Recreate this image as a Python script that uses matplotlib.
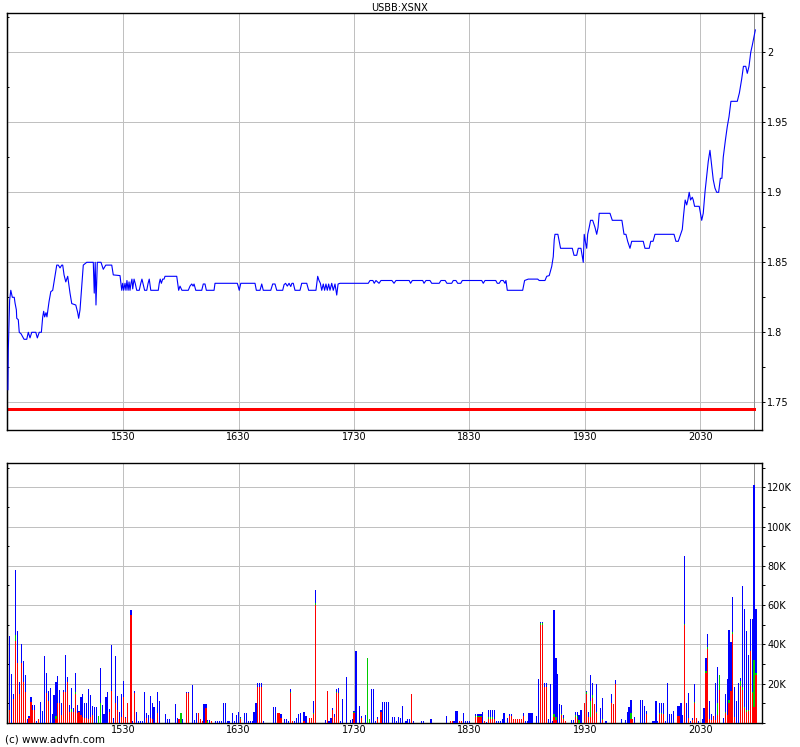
import matplotlib
matplotlib.use('Agg')
import matplotlib.pyplot as plt
from matplotlib.ticker import MultipleLocator, FixedLocator, FuncFormatter
import numpy as np

# --- DATA ---
# x values are minutes after 14:30
title = 'USBB:XSNX'
prev_close = 1.745
last_minute = 388.0

price_minute = [
    0.0, 0.2, 0.6, 0.9, 1.5, 2.0, 2.3, 3.3, 3.7, 4.4, 4.6, 5.4, 5.9, 6.8, 8.4, 9.8,
    10.6, 11.5, 12.4, 14.5, 15.3, 16.3, 17.4, 18.1, 18.6, 19.1, 19.8, 20.3, 21.4, 22.3,
    23.3, 24.1, 25.4, 26.2, 27.1, 28.0, 28.5, 29.2, 30.1, 31.1, 32.3, 33.2, 35.3, 36.3,
    36.8, 37.5, 38.4, 39.2, 41.0, 44.4, 44.9, 45.4, 45.8, 46.5, 48.4, 49.6, 50.9, 54.0,
    54.8, 58.3,
    59.2, 59.7, 60.2, 60.9, 61.4, 61.9, 62.5, 63.0, 63.5, 64.0, 64.5, 64.9, 65.6, 66.2,
    67.0, 68.3, 69.1, 69.7, 70.4, 71.1, 72.2, 72.9, 73.5, 74.3, 78.2, 78.7, 79.2, 79.8,
    80.5, 81.2, 81.7, 87.8, 88.3, 88.8, 89.5, 90.5, 93.8, 94.7, 95.6, 96.3, 96.8, 97.7,
    100.8, 101.6, 102.5, 103.2, 107.2, 107.7, 119.3, 119.8, 120.3, 121.1, 128.5, 129.2,
    131.1, 132.0, 132.8, 136.7, 137.7, 138.9, 139.8, 142.9, 143.6, 144.4, 145.3, 146.2,
    147.1, 147.7, 148.4, 149.3, 151.9, 152.8, 155.4, 156.4, 160.2, 161.1, 161.8, 162.5,
    163.2, 164.0, 164.7, 165.4, 166.1, 166.8, 167.5, 168.4, 169.2, 170.1, 171.0, 171.7,
    172.7, 187.4, 188.3, 189.8, 190.5, 191.4, 193.0, 194.0, 199.7, 200.8, 201.8,
    208.7, 209.4, 210.3, 215.7, 216.4, 217.4, 219.5, 220.4, 224.3, 225.2, 227.4, 228.3,
    230.8, 231.6, 233.0, 233.9, 235.5, 236.3, 246.4, 247.2, 248.1, 253.7, 254.5, 255.5,
    256.4, 257.6, 258.5, 259.0, 259.7, 267.7, 268.7, 270.6, 275.5, 276.3, 279.3, 280.2,
    281.5, 282.8, 283.6, 284.1, 284.5, 286.0, 286.7, 287.4, 293.5, 294.4, 295.8, 296.6,
    298.0, 298.7, 299.2, 299.7, 300.4, 301.0, 301.5, 302.3, 303.0, 304.1, 305.3, 306.2,
    306.9, 307.5, 313.1, 314.3, 319.3, 320.4, 321.4, 322.3, 323.5, 324.4, 330.4, 331.3,
    333.5, 334.3, 335.5, 336.5, 346.4, 347.4, 348.6, 349.8, 350.7, 351.4, 352.2, 353.0,
    353.6, 354.3, 355.0, 355.9, 356.4, 357.1, 359.5, 360.8, 361.6, 362.5, 363.4, 364.2,
    365.1, 365.9, 366.8, 367.7, 368.6, 369.6, 370.5, 371.3, 372.0, 373.1, 374.1, 375.0,
    376.0, 379.3, 380.4, 381.6, 382.5, 383.7, 384.5, 385.4, 386.3, 387.1, 388.0, 388.7,
]
price = [
    1.759, 1.787, 1.807, 1.823, 1.830, 1.827, 1.825, 1.825, 1.821, 1.816, 1.810, 1.809, 1.800, 1.799, 1.795, 1.795,
    1.800, 1.796, 1.800, 1.800, 1.796, 1.800, 1.800, 1.811, 1.815, 1.811, 1.814, 1.811, 1.822, 1.829,
    1.830, 1.837, 1.848, 1.848, 1.846, 1.848, 1.848, 1.841, 1.836, 1.840, 1.828, 1.8205, 1.8195, 1.814,
    1.810, 1.816, 1.833, 1.848, 1.850, 1.850, 1.828, 1.850, 1.8195, 1.850, 1.850, 1.845, 1.848, 1.848,
    1.841, 1.8405,
    1.830, 1.835, 1.830, 1.835, 1.830, 1.837, 1.830, 1.836, 1.830, 1.835, 1.838, 1.831, 1.838, 1.835,
    1.830, 1.830, 1.835, 1.838, 1.834, 1.830, 1.830, 1.835, 1.838, 1.830, 1.830, 1.835, 1.838, 1.835,
    1.838, 1.838, 1.840, 1.840, 1.835, 1.830, 1.833, 1.830, 1.830, 1.833, 1.8345, 1.833, 1.8345, 1.830,
    1.830, 1.8345, 1.8345, 1.830, 1.830, 1.835, 1.835, 1.8327, 1.830, 1.835, 1.835, 1.830,
    1.830, 1.8345, 1.830, 1.830, 1.8345, 1.8345, 1.830, 1.830, 1.834, 1.835, 1.833, 1.835,
    1.8327, 1.835, 1.835, 1.830, 1.830, 1.835, 1.835, 1.830, 1.830, 1.840, 1.837, 1.835,
    1.830, 1.8345, 1.830, 1.8345, 1.830, 1.8345, 1.830, 1.835, 1.830, 1.8345, 1.8266, 1.8345,
    1.835, 1.835, 1.837, 1.837, 1.835, 1.837, 1.835, 1.837, 1.837, 1.835, 1.837,
    1.837, 1.835, 1.837, 1.837, 1.835, 1.837, 1.837, 1.835, 1.835, 1.837, 1.837, 1.835,
    1.835, 1.837, 1.837, 1.835, 1.835, 1.837, 1.837, 1.835, 1.837, 1.837, 1.835, 1.835,
    1.837, 1.837, 1.835, 1.837, 1.830, 1.830, 1.837, 1.838, 1.838, 1.837, 1.837, 1.840,
    1.8405, 1.847, 1.854, 1.866, 1.870, 1.870, 1.865, 1.860, 1.860, 1.855, 1.855, 1.860,
    1.860, 1.854, 1.850, 1.870, 1.864, 1.860, 1.870, 1.875, 1.880, 1.880, 1.875, 1.870,
    1.875, 1.885, 1.885, 1.880, 1.880, 1.870, 1.870, 1.865, 1.860, 1.865, 1.865, 1.860,
    1.860, 1.865, 1.865, 1.870, 1.870, 1.865, 1.865, 1.870, 1.8735, 1.884, 1.8945, 1.891,
    1.8945, 1.900, 1.8945, 1.8965, 1.8945, 1.890, 1.890, 1.880, 1.885, 1.900, 1.912, 1.922,
    1.930, 1.920, 1.909, 1.903, 1.900, 1.900, 1.910, 1.910, 1.925, 1.937, 1.947, 1.954,
    1.965, 1.965, 1.971, 1.981, 1.990, 1.990, 1.985, 1.990, 2.000, 2.005, 2.011, 2.016,
]

# volume per minute, in thousands: total, red part (bottom), green part (middle)
vol_minute = [
    1, 2, 3, 4, 5, 6, 7, 8, 9, 10,
    11, 12, 13, 14, 15, 16, 17, 18, 19, 20,
    21, 22, 23, 24, 25, 26, 27, 28, 29, 30,
    31, 32, 33, 34, 35, 36, 37, 38, 39, 40,
    41, 42, 43, 44, 45, 46, 47, 48, 49, 50,
    51, 52, 53, 54, 55, 56, 57, 58, 59, 60,
    61, 62, 64, 65, 66, 67, 68, 69, 70, 71,
    72, 73, 74, 75, 76, 78, 79, 82, 83, 84,
    87, 88, 89, 90, 91, 93, 94, 96, 97, 98,
    99, 100, 101, 102, 103, 104, 105, 106, 108, 109,
    110, 111, 112, 113, 114, 115, 117, 118, 119, 120,
    121, 123, 124, 125, 126, 127, 128, 129, 130, 131,
    132, 133, 138, 139, 140, 141, 142, 144, 145, 146,
    147, 148, 149, 150, 151, 152, 154, 155, 157, 158,
    159, 160, 165, 166, 167, 168, 169, 170, 171, 172,
    173, 174, 176, 178, 179, 180, 181, 183, 184, 186,
    187, 188, 189, 190, 191, 192, 194, 195, 196, 197,
    198, 200, 201, 202, 203, 204, 205, 207, 208, 209,
    210, 211, 215, 216, 220, 228, 230, 231, 232, 233,
    234, 235, 236, 237, 238, 239, 240, 243, 244, 245,
    246, 247, 248, 249, 250, 251, 252, 253, 254, 255,
    256, 257, 258, 260, 261, 262, 263, 264, 265, 266,
    267, 268, 269, 270, 271, 272, 273, 275, 276, 277,
    278, 279, 280, 281, 282, 283, 284, 285, 286, 287,
    288, 289, 290, 293, 294, 295, 296, 297, 298, 300,
    301, 302, 303, 304, 305, 306, 308, 309, 311, 314,
    315, 316, 319, 321, 322, 323, 324, 325, 326, 329,
    330, 331, 332, 335, 336, 337, 338, 339, 340, 341,
    342, 343, 344, 345, 346, 348, 349, 350, 351, 352,
    353, 354, 355, 356, 357, 358, 359, 361, 362, 363,
    364, 365, 366, 367, 368, 369, 370, 372, 373, 374,
    375, 376, 377, 378, 379, 380, 381, 382, 383, 384,
    385, 386, 387, 388, 389,
]
vol_total = [
    44.3, 25, 14.8, 78, 47, 20.9, 40, 31.8, 24.5, 2.2,
    3.6, 13.4, 9.2, 9.2, 1, 2.2, 10.7, 6.1, 34.2, 25.5,
    16.3, 18, 4.8, 14, 21, 24, 16.8, 10.4, 16.8, 34.7,
    23.6, 9.4, 17.9, 7.5, 25.5, 9.4, 6.3, 13.4, 15, 10.4,
    10.4, 17.5, 14.3, 8.7, 8.2, 8.3, 3.6, 28.2, 9.4, 4.8,
    13.4, 16, 7.3, 39.8, 2.7, 34.2, 13.8, 5.8, 14.8, 21.6,
    2.9, 10.4, 57.3, 0.9, 16.3, 5.8, 1, 1, 1, 16,
    5.3, 4, 13.8, 10.4, 8.3, 15.8, 11.4, 4.6, 2, 2,
    9.7, 2.7, 1.9, 5.3, 1.9, 15.8, 15.8, 19.4, 1.5, 5.3,
    5.3, 2.2, 1.2, 9.7, 9.7, 1.5, 1.5, 1.2, 1, 1,
    1, 1, 10.4, 10.4, 1, 1, 5.3, 1, 4, 5.8,
    3.2, 5.3, 5.3, 1, 1, 1, 5.8, 10.4, 20.6, 20.6,
    20.6, 1, 8.3, 8.3, 5.3, 5.3, 4.6, 2, 2, 1,
    17.5, 1, 1, 2.5, 4.6, 5.3, 5.8, 3.7, 2.7, 2.7,
    11.4, 67.8, 1.5, 16.5, 1, 2.7, 7.8, 4.6, 17.5, 18,
    1, 12.4, 23.6, 1.5, 2.2, 6.3, 36.4, 8.8, 3.7, 4,
    33.3, 1.9, 17.5, 17.5, 1, 3.2, 6.6, 10.7, 10.7, 10.7,
    10.7, 3.2, 3.2, 1, 3, 2.5, 8.7, 1, 2, 2,
    14.8, 1, 1, 1, 2, 3.6, 1, 1, 1, 6.1,
    6.1, 1, 1, 5.1, 1, 1, 1, 4.6, 4.6, 4.6,
    4.6, 5.6, 1, 0.5, 6.6, 6.6, 6.6, 6.6, 1.2, 0.8,
    0.8, 2, 5.1, 2.5, 4.6, 4.6, 2, 2, 2, 2,
    2, 5.1, 1, 1, 5.1, 5.1, 5.1, 3.7, 22.4, 51.2,
    51.2, 20.4, 20.4, 2, 19.9, 1, 57.3, 33.3, 25, 9.7,
    9.2, 4, 0.8, 1.5, 1.5, 5.6, 5.6, 4, 6.6, 10.4,
    16.3, 5.6, 24.5, 20.4, 9.7, 19.9, 7.7, 12.8, 0.8, 14.8,
    9.7, 21.9, 2, 1.5, 5.6, 8.2, 11.7, 2, 3, 11.7,
    11.7, 8.8, 6.1, 1, 1, 11.2, 1, 10.2, 10.2, 10.2,
    1, 20.4, 4.6, 4.6, 6.1, 8.7, 8.7, 10, 4, 85,
    10.2, 15.3, 1, 2.5, 19.9, 2.5, 1, 2, 7.7, 33.2,
    45.4, 11.2, 4.6, 3.6, 20.4, 28.6, 24.5, 2.7, 14.8, 22.4,
    47.4, 41.3, 64.3, 18.4, 11, 20.4, 23, 69.9, 58.1, 46.9,
    34.7, 53, 53, 121, 58.1,
]
vol_red = [
    6.6, 0, 12, 41.8, 30.4, 14.8, 30.4, 21, 16, 0,
    2.7, 10.9, 6.6, 6.6, 0, 2.2, 0, 0, 0, 15.1,
    11, 0, 0, 0, 2, 10, 10, 4, 16, 16,
    21, 5.8, 5.8, 5.8, 15, 5, 5.8, 4, 3.2, 2.4,
    2.4, 1.9, 3.2, 4, 0, 0, 0, 0, 0, 0,
    0, 0, 5.8, 16.3, 0, 10, 6.6, 0, 2.9, 13.4,
    2.4, 10.4, 55, 0, 15.5, 0, 0, 0, 0, 0,
    2.7, 0, 2.4, 1.9, 0, 5.3, 0, 0, 0, 0,
    0, 0, 1.9, 0, 0, 15.1, 15.1, 0, 0, 0,
    5.3, 2.2, 1.2, 0, 7.8, 0, 0, 1.2, 0, 0,
    0, 0, 0, 0, 0, 0, 0, 0, 0, 0,
    2, 0, 0, 0, 0, 0, 0, 0, 18.5, 18.5,
    18.5, 0, 0, 0, 5.3, 5.3, 2.4, 0, 0, 0,
    15.1, 1, 0, 0, 0, 0, 1, 0, 2.7, 2.7,
    4.6, 60.2, 0, 16.5, 0, 0, 6.6, 3.2, 15.5, 15.1,
    0, 0, 0, 0, 0, 5.3, 0, 0, 2.4, 0,
    0, 0, 0, 0, 0, 1.9, 5.8, 0, 0, 0,
    0, 0, 0, 0, 0, 0, 0, 0, 0, 0,
    14.8, 0, 0, 0, 0, 0, 1, 1, 0, 0,
    0, 1, 1, 0, 0, 0, 0, 3, 3, 3,
    3, 0, 1, 0, 2.2, 2.2, 2.2, 2.2, 0, 0,
    0, 0, 0, 0, 3.7, 3.7, 2, 2, 2, 2,
    2, 3.7, 0, 0, 0, 0, 0, 0, 0, 50,
    50, 18.4, 18.4, 0, 0, 0, 3.2, 1.5, 0, 0,
    4, 1.9, 0.8, 0, 0, 3, 2, 0, 0, 10.4,
    14.8, 3.2, 3.2, 12.6, 9.7, 4.9, 0, 1.5, 0, 10,
    9.7, 19.9, 0, 0, 0, 0, 1.9, 2, 0, 0,
    0, 0, 4.6, 0, 0, 0, 0, 4.8, 4.8, 4.8,
    0, 0, 0, 0, 0, 3.6, 3.6, 0, 0, 49.8,
    0, 2.5, 0, 1.5, 10, 2.5, 0, 0, 0, 25.3,
    37.6, 1.9, 1.5, 3.6, 1.5, 4, 16.8, 0, 4.9, 4,
    10.4, 16.2, 45.4, 2.9, 0, 0, 18.9, 16.8, 7.5, 5.8,
    6.3, 36.7, 15.5, 8.3, 24.5,
]
vol_green = [
    0, 0, 0, 3.1, 0, 0, 0, 0, 0, 0,
    0, 0, 0, 0, 0, 0, 0, 0, 0, 0,
    0, 0, 0, 0, 1.5, 0, 0, 0, 0, 0,
    0, 0, 1.5, 0, 1, 0, 0, 0, 0, 0,
    0, 0, 0, 0, 0, 0, 3.6, 10, 0, 0,
    0, 0, 0, 0, 0, 0, 0, 0, 0, 0,
    0, 0, 0, 0, 0, 0, 0, 0, 0, 0,
    0, 0, 0, 0, 0, 0, 0, 0, 0, 0,
    0, 0, 0, 5.3, 0, 0, 0, 0, 0, 0,
    0, 0, 0, 0, 0, 0.8, 0, 0, 0, 0,
    0, 0, 0, 0, 0, 0, 0, 0, 0, 0,
    0.5, 0, 0, 0, 0, 0, 0, 0, 0, 0,
    0, 0, 0, 0, 0, 0, 0, 0, 0, 0,
    0.8, 0, 0, 0, 0, 0, 0, 0, 0, 0,
    0.6, 0.8, 0, 0, 0, 0, 0, 0, 0.5, 0,
    0, 0, 0, 0, 0, 0.5, 0, 0, 0, 0,
    33.3, 1.9, 0, 0, 0, 0, 0, 0, 0, 0,
    0, 0, 0, 0, 0, 0, 0, 0, 0, 0,
    0, 0, 0, 0, 0, 0, 0, 0, 0, 0,
    0, 0, 0, 0, 0, 0, 0, 0.5, 0.5, 0.5,
    0.5, 0, 0, 0, 0.7, 0.7, 0.7, 0, 0, 0,
    0, 0, 0, 0, 0, 0, 0, 0, 0, 0,
    0, 0, 0, 0, 0, 0, 0, 0, 0, 0.7,
    0.7, 0, 0, 0, 0, 0, 1.5, 1.7, 0, 0,
    0.5, 0.8, 0, 0, 0, 1, 1.5, 1.5, 0, 0,
    0.8, 0, 8, 1.7, 0, 0.8, 0, 0.5, 0, 0,
    0, 0, 0, 0, 0, 0, 3.4, 0, 0, 0,
    0, 0, 0, 0, 0, 0, 0, 0.5, 0.5, 0,
    0, 0, 0, 0, 0, 0, 0, 0, 0, 0.5,
    0, 0, 0, 0, 0.7, 0, 0, 0, 0, 1.4,
    1, 0, 0, 0, 0, 6, 7.5, 0, 0.5, 0,
    1.4, 0.3, 0.7, 0, 0, 0, 2.7, 1.7, 0.8, 0.8,
    0.3, 0, 0.5, 24, 0.8,
]

time_ticks = [60, 120, 180, 240, 300, 360]
time_labels = ['1530', '1630', '1730', '1830', '1930', '2030']

# --- PLOT ---
W, H = 800, 747
fig = plt.figure(figsize=(W / 100, H / 100), dpi=100)
plt.rcParams['font.family'] = ['DejaVu Sans']

x_lo, x_hi = -0.47, 392.0
grid_c = '#c0c0c0'
lw = 0.72  # one pixel
fs = 7

def style_axis(ax):
    ax.set_xlim(x_lo, x_hi)
    ax.xaxis.set_major_locator(FixedLocator(time_ticks))
    ax.set_xticklabels(time_labels)
    ax.tick_params(axis='x', length=0, pad=1.5, labelsize=fs)
    ax.yaxis.tick_right()
    ax.tick_params(axis='y', which='major', direction='out', length=2.5,
                   width=0.7, pad=1.5, labelsize=fs)
    ax.tick_params(axis='y', which='minor', direction='out', length=2, width=0.7)
    ax.grid(True, which='major', color=grid_c, linewidth=lw, antialiased=False)
    ax.set_axisbelow(True)
    for s in ax.spines.values():
        s.set_linewidth(1.0)
        s.set_color('black')
    # small inward ticks on the left spine
    sec = ax.secondary_yaxis('left')
    sec.tick_params(which='both', direction='in', length=1.5, width=0.7, labelleft=False)
    sec.yaxis.set_major_locator(ax.yaxis.get_major_locator())
    sec.yaxis.set_minor_locator(ax.yaxis.get_minor_locator())
    ax.axvline(last_minute, color='#909090', linewidth=lw, antialiased=False, zorder=1)

# price panel
ax1 = fig.add_axes([7 / W, 1 - 430 / H, 754.7 / W, 417 / H])
ax1.set_ylim(1.7302, 2.0281)
ax1.yaxis.set_major_locator(MultipleLocator(0.05))
ax1.yaxis.set_minor_locator(MultipleLocator(0.025))
ax1.yaxis.set_major_formatter(FuncFormatter(lambda v, p: ('%.2f' % v).rstrip('0').rstrip('.')))
style_axis(ax1)
# previous close, drawn across the session
ax1.plot([x_lo, price_minute[-1]], [prev_close, prev_close], color='#ff0000',
         linewidth=0.75, antialiased=False, solid_capstyle='butt', zorder=2)
ax1.plot(price_minute, price, color='#0000ff', linewidth=0.8, zorder=3)

# volume panel
ax2 = fig.add_axes([7 / W, 1 - 723 / H, 754.7 / W, 260.3 / H])
ax2.set_ylim(0, 132.5)
ax2.yaxis.set_major_locator(MultipleLocator(20))
ax2.yaxis.set_minor_locator(MultipleLocator(10))
ax2.yaxis.set_major_formatter(FuncFormatter(lambda v, p: '' if v == 0 else '%dK' % v))
style_axis(ax2)

vm = np.array(vol_minute, dtype=float)
vt = np.array(vol_total)
vr = np.array(vol_red)
vg = np.array(vol_green)
vb = vt - vr - vg
bw = 0.6
ax2.bar(vm, vr, width=bw, color='#ff0000', linewidth=0, antialiased=False, zorder=3)
ax2.bar(vm, vg, width=bw, bottom=vr, color='#00cc00', linewidth=0, antialiased=False, zorder=3)
ax2.bar(vm, vb, width=bw, bottom=vr + vg, color='#0000ff', linewidth=0, antialiased=False, zorder=3)

fig.text(0.5, 1 - 8 / H, title, ha='center', va='center', fontsize=fs)
fig.text(5 / W, 1 - 739 / H, '(c) www.advfn.com', ha='left', va='center', fontsize=7.5)

fig.savefig('out.png', dpi=100)
